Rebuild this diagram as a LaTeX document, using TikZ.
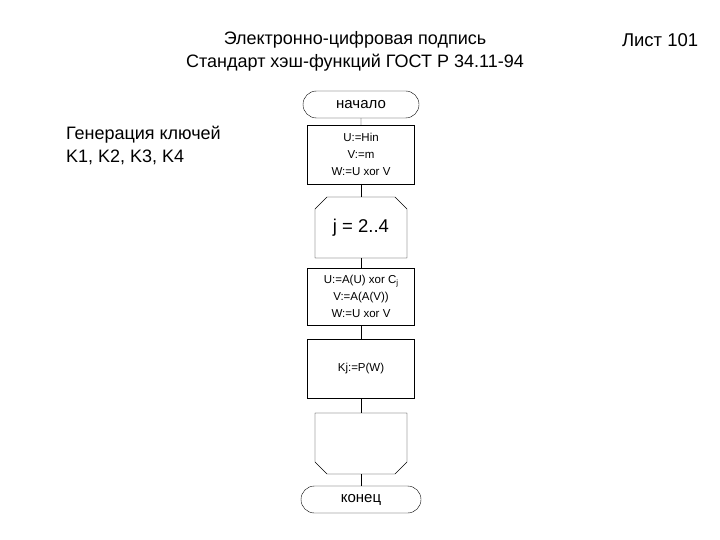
\documentclass[tikz,border=0pt]{standalone}
\usepackage{fontspec}
\setmainfont{Liberation Sans}
\usetikzlibrary{positioning, shapes.misc}

\begin{document}
\begin{tikzpicture}[
        node distance=12pt,
        every node/.style={inner sep=0pt, outer sep=0pt},
        term/.style={rounded rectangle, draw=black, minimum width=116pt,
                     minimum height=27pt, font=\fontsize{15}{15}\selectfont},
        box/.style={rectangle, draw=black, minimum width=107pt,
                    align=center, font=\fontsize{11.5}{17}\selectfont},
        loopbox/.style={rectangle, minimum width=92pt, minimum height=61pt},
        link/.style={draw=black},
        title/.style={align=center, font=\fontsize{18}{23}\selectfont},
    ]
    \path[use as bounding box] (0pt,0pt) rectangle (720pt,-540pt);

    % header
    \node[title] (head) at (355pt,-51pt)
        {Электронно-цифровая подпись\\Стандарт хэш-функций ГОСТ Р 34.11-94};
    \node[title, anchor=west, font=\fontsize{18.5}{23}\selectfont] (sheet)
        at (622pt,-40pt) {Лист 101};
    \node[title, align=left, anchor=north west] (keys) at (66pt,-126pt)
        {Генерация ключей\\K1, K2, K3, K4};

    % flowchart
    \node[term] (start) at (361pt,-104.5pt) {начало};
    \node[box, minimum height=59pt, below=7pt of start] (init)
        {U:=Hin\\V:=m\\W:=U xor V};
    \node[loopbox, font=\fontsize{18.5}{18.5}\selectfont, below=13pt of init]
        (loopa) {j = 2..4};
    \node[box, minimum height=57pt, below=10pt of loopa] (step)
        {U:=A(U) xor C\raisebox{-0.35ex}{\fontsize{8}{8}\selectfont j}\\V:=A(A(V))\\W:=U xor V};
    \node[box, minimum height=59pt, below=14pt of step] (kj) {Kj:=P(W)};
    \node[loopbox, below=15pt of kj] (loopb) {};
    \node[term, minimum width=120pt, below=12pt of loopb] (stop) {конец};

    % loop limits with cut corners
    \draw ([yshift=-12pt]loopa.north west) -- ([xshift=12pt]loopa.north west)
        -- ([xshift=-12pt]loopa.north east) -- ([yshift=-12pt]loopa.north east)
        -- (loopa.south east) -- (loopa.south west) -- cycle;
    \draw ([yshift=12pt]loopb.south west) -- ([xshift=12pt]loopb.south west)
        -- ([xshift=-12pt]loopb.south east) -- ([yshift=12pt]loopb.south east)
        -- (loopb.north east) -- (loopb.north west) -- cycle;

    \draw[link] (start) -- (init);
    \draw[link] (init) -- (loopa);
    \draw[link] (loopa) -- (step);
    \draw[link] (step) -- (kj);
    \draw[link] (kj) -- (loopb);
    \draw[link] (loopb) -- (stop);
\end{tikzpicture}
\end{document}
